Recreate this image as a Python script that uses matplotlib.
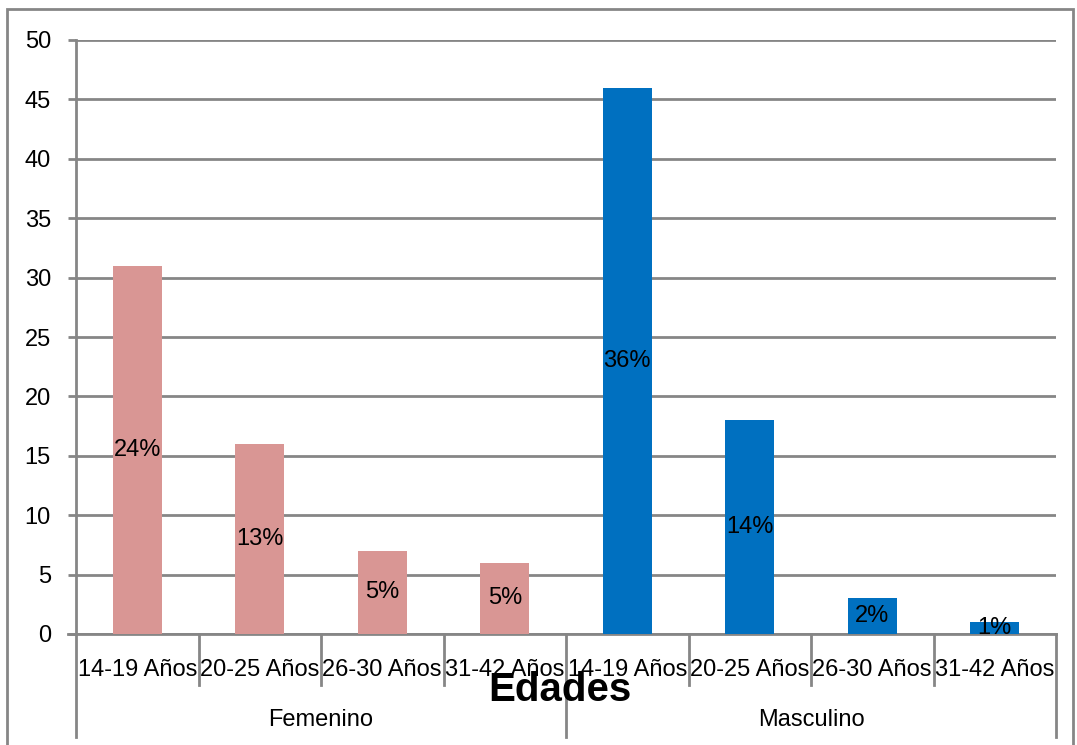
import matplotlib
matplotlib.use("Agg")
import matplotlib.pyplot as plt
import matplotlib.patches as patches
import matplotlib.transforms as mtransforms

plt.rcParams['font.family'] = ['Liberation Sans', 'DejaVu Sans']

# data
groups = ['Femenino', 'Masculino']
edades = ['14-19 Años', '20-25 Años', '26-30 Años', '31-42 Años']
femenino = [31, 16, 7, 6]
masculino = [46, 18, 3, 1]
pct_fem = ['24%', '13%', '5%', '5%']
pct_mas = ['36%', '14%', '2%', '1%']

col_fem = '#D99694'
col_mas = '#0070C0'
grid_col = '#868686'
fs = 17

fig = plt.figure(figsize=(10.77, 7.45), dpi=100)
ax = fig.add_axes([76/1077, 1 - 634/745, 980/1077, 594/745])

values = femenino + masculino
labels = pct_fem + pct_mas
colors = [col_fem]*4 + [col_mas]*4
x = list(range(len(values)))

ax.bar(x, values, width=0.4, color=colors, zorder=3)
for xi, v, lab in zip(x, values, labels):
    ax.text(xi, v/2, lab, ha='center', va='center', fontsize=fs, zorder=4)

ax.set_xlim(-0.5, 7.5)
ax.set_ylim(0, 50)
ax.set_yticks(range(0, 51, 5))
ax.yaxis.grid(True, color=grid_col, linewidth=2)
ax.set_axisbelow(True)
ax.tick_params(axis='y', labelsize=fs, length=6, width=2, color=grid_col, pad=12)
ax.set_xticks([])
for s in ['top', 'right', 'bottom']:
    ax.spines[s].set_visible(False)
ax.spines['left'].set_color(grid_col)
ax.spines['left'].set_linewidth(2)

# category axis with two levels
trans = mtransforms.blended_transform_factory(ax.transData, ax.transAxes)
px = 1/594  # one pixel in axes units (vertical)
ax.plot([-0.5 - 8/122.5, 7.5], [0, 0], color=grid_col, lw=2, transform=trans, clip_on=False)
for b in range(9):
    xb = b - 0.5
    low = -103*px if b in (0, 4, 8) else -51*px
    ax.plot([xb, xb], [0, low], color=grid_col, lw=2, transform=trans, clip_on=False)
for xi in x:
    ax.text(xi, -36*px, edades[xi % 4], ha='center', va='center', fontsize=fs,
            transform=trans)
for gi, g in enumerate(groups):
    ax.text(1.5 + 4*gi, -86*px, g, ha='center', va='center', fontsize=fs,
            transform=trans)

ax.text(3.5 - 6/122.5, -56*px, 'Edades', ha='center', va='center', fontsize=29,
        fontweight='bold', transform=trans)

# outer border
fig.patches.append(patches.Rectangle((7/1077, -0.01), 1066/1077, 1.01 - 9/745,
                                     transform=fig.transFigure, fill=False,
                                     edgecolor=grid_col, linewidth=2))

fig.savefig('out.png', dpi=100)
